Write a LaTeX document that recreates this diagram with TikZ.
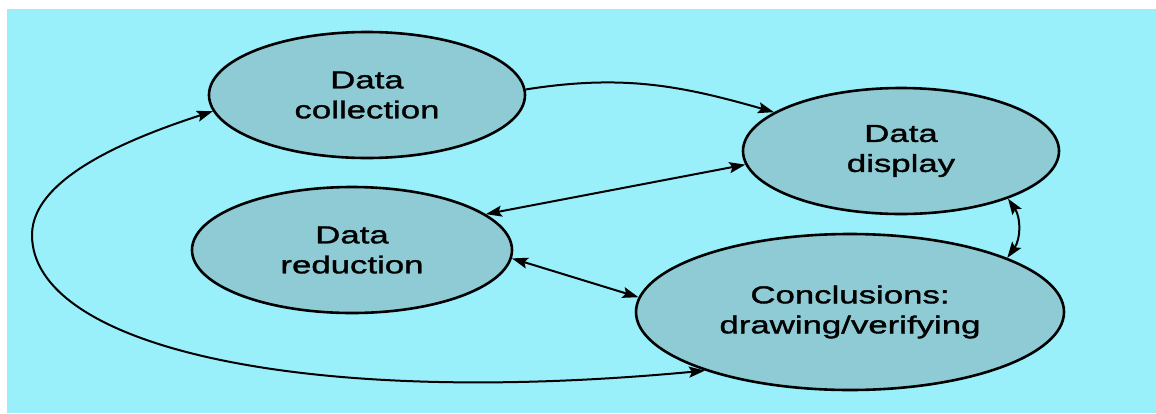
\documentclass[tikz,border=0pt]{standalone}
\usepackage{fontspec}
\setmainfont{Liberation Sans}[FakeStretch=1.42,FakeBold=1.4]
\usetikzlibrary{shapes.geometric,arrows.meta}
\definecolor{bgc}{RGB}{153,240,251}
\definecolor{fillc}{RGB}{142,203,213}
\tikzset{
  stage/.style={ellipse, draw=black, line width=2.6pt, fill=fillc, inner sep=0pt,
    align=center, font=\fontsize{24.5}{30}\selectfont, text=black},
  conn/.style={line width=2pt, draw=black},
  tipA/.style={-{Stealth[length=16pt,width=11pt,inset=3pt]}},
  tipB/.style={{Stealth[length=16pt,width=11pt,inset=3pt]}-{Stealth[length=16pt,width=11pt,inset=3pt]}}
}
\begin{document}
\begin{tikzpicture}[x=1pt,y=1pt]
\fill[white] (0,0) rectangle (1156,-413);
\useasboundingbox (0,0) rectangle (1156,-413);
\fill[bgc] (7,-9) rectangle (1156,-413);

\node[stage, minimum width=316pt, minimum height=126pt] (col) at (367,-95) {Data\\collection};
\node[stage, minimum width=316pt, minimum height=126pt] (disp) at (901,-151) {Data\\display};
\node[stage, minimum width=320pt, minimum height=126pt] (red) at (352,-250) {Data\\reduction};
\node[stage, minimum width=428pt, minimum height=156pt] (conc) at (850,-312) {Conclusions:\\drawing/verifying};

\coordinate (lp) at (32,-235);

\draw[conn, tipA] (col.2) to[out=9, in=164] (disp.163);
\draw[conn, tipB] (disp.185) -- (red.15);
\draw[conn, tipB] (red.-3) -- (conc.176);
\draw[conn, tipB] (disp.-24) to[bend left=35] (conc.19);
\draw[conn, tipB] (conc.202) .. controls (297,-409) and (32,-345) .. (lp)
   .. controls (32,-175) and (140,-135) .. (col.186);
\end{tikzpicture}
\end{document}
